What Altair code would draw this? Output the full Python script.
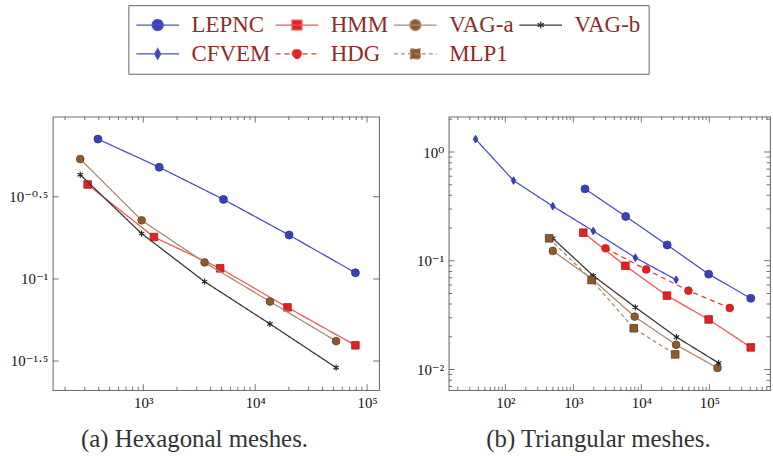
import altair as alt
import pandas as pd

SERIES = ["LEPNC", "HMM", "VAG-a", "VAG-b", "CFVEM", "HDG", "MLP1"]

# (a) Hexagonal meshes: number of unknowns vs. error
HEX_LEPNC_X = [393, 1388, 5210, 20100, 78700]
HEX_LEPNC_Y = [0.711, 0.479, 0.305, 0.185, 0.109]
HEX_HMM_X = [318, 1244, 4860, 19440, 78700]
HEX_HMM_Y = [0.376, 0.180, 0.116, 0.0671, 0.0394]
HEX_VAGA_X = [273, 966, 3530, 13550, 52900]
HEX_VAGA_Y = [0.537, 0.2275, 0.126, 0.0728, 0.0418]
HEX_VAGB_X = [273, 966, 3530, 13550, 52900]
HEX_VAGB_Y = [0.431, 0.189, 0.0962, 0.0532, 0.0288]

# (b) Triangular meshes
TRI_LEPNC_X = [1483, 5900, 24000, 97800, 407000]
TRI_LEPNC_Y = [0.459, 0.256, 0.140, 0.0755, 0.0452]
TRI_HMM_X = [1400, 5830, 23800, 97700, 407000]
TRI_HMM_Y = [0.1816, 0.090, 0.0479, 0.0289, 0.016]
TRI_VAGA_X = [499, 1897, 7980, 32500, 132000]
TRI_VAGA_Y = [0.1234, 0.068, 0.0307, 0.0169, 0.01035]
TRI_VAGB_X = [499, 1963, 8170, 32900, 137000]
TRI_VAGB_Y = [0.161, 0.0729, 0.0374, 0.0199, 0.0115]
TRI_CFVEM_X = [36.4, 132, 499, 1963, 8170, 32500]
TRI_CFVEM_Y = [1.315, 0.547, 0.318, 0.188, 0.107, 0.067]
TRI_HDG_X = [2970, 11800, 49300, 200000]
TRI_HDG_Y = [0.1305, 0.0833, 0.0532, 0.0369]
TRI_MLP1_X = [440, 1853, 7730, 31500]
TRI_MLP1_Y = [0.161, 0.0666, 0.024, 0.0138]

# axis tick values and their labels
HEX_X_TICKS = [1e3, 1e4, 1e5]
HEX_X_LABELS = ["10³", "10⁴", "10⁵"]
HEX_Y_TICKS = [10 ** -0.5, 10 ** -1.0, 10 ** -1.5]
HEX_Y_LABELS = ["10⁻⁰·⁵", "10⁻¹", "10⁻¹·⁵"]
TRI_X_TICKS = [1e2, 1e3, 1e4, 1e5]
TRI_X_LABELS = ["10²", "10³", "10⁴", "10⁵"]
TRI_Y_TICKS = [1e-2, 1e-1, 1e0]
TRI_Y_LABELS = ["10⁻²", "10⁻¹", "10⁰"]

SERIF = "Liberation Serif, DejaVu Serif, serif"
FRAME = "#707070"

# marker paths (unit box) for the plots
DIAMOND = "M0,-1L0.6,0L0,1L-0.6,0Z"
ASTERISK = "M0,-1L0,1M-0.87,-0.5L0.87,0.5M-0.87,0.5L0.87,-0.5"

# legend symbols: a line segment with the marker in its middle
LEG_CIRCLE = "M-1.95,0H1.95M-0.5,0A0.5,0.5,0,1,1,0.5,0A0.5,0.5,0,1,1,-0.5,0Z"
LEG_SQUARE = "M-1.95,0H1.95M-0.45,-0.45H0.45V0.45H-0.45Z"
LEG_DIAMOND = "M-1.95,0H1.95M0,-0.48L0.27,0L0,0.48L-0.27,0Z"
LEG_STAR = "M-1.95,0H1.95M0,-0.32L0,0.32M-0.28,-0.16L0.28,0.16M-0.28,0.16L0.28,-0.16"
LEG_SMALL_CIRCLE = "M-1.95,0H1.95M-0.42,0A0.42,0.42,0,1,1,0.42,0A0.42,0.42,0,1,1,-0.42,0Z"

STYLE = {
    "LEPNC": dict(line="#4b52c2", fill="#3b42b4", stroke="#2c3290", shape="circle",
                  size=64, dash=[1, 0], legend=LEG_CIRCLE, filled=True),
    "HMM": dict(line="#f25656", fill="#e02222", stroke="#b51818", shape="square",
                size=58, dash=[1, 0], legend=LEG_SQUARE, filled=True),
    "VAG-a": dict(line="#ab8b70", fill="#8d5a2c", stroke="#6a4020", shape="circle",
                  size=60, dash=[1, 0], legend=LEG_CIRCLE, filled=True),
    "VAG-b": dict(line="#3a3a3a", fill="#222222", stroke="#222222", shape=ASTERISK,
                  size=40, dash=[1, 0], legend=LEG_STAR, filled=False),
    "CFVEM": dict(line="#4b52c2", fill="#3b42b4", stroke="#2c3290", shape=DIAMOND,
                  size=60, dash=[1, 0], legend=LEG_DIAMOND, filled=True),
    "HDG": dict(line="#e53535", fill="#e02222", stroke="#c01a1a", shape="circle",
                size=60, dash=[5, 4], legend=LEG_SMALL_CIRCLE, filled=True),
    "MLP1": dict(line="#ab8b70", fill="#8d5a2c", stroke="#5e3b1a", shape="square",
                 size=58, dash=[4, 3], legend=LEG_SQUARE, filled=True),
}


def label_expr(values, labels):
    vals = ",".join(repr(float(v)) for v in values)
    labs = ",".join("'" + s + "'" for s in labels)
    return f"[{labs}][indexof([{vals}], datum.value)]"


def minor_ticks(lo, hi):
    out = []
    for k in range(lo, hi + 1):
        out += [m * 10.0 ** k for m in range(2, 10)]
    return out


def panel(series, xdom, ydom, xmaj, xlab, xminor, ymaj, ylab, yminor,
          width, height, caption, caption_x, yextent, legend=False):
    xs = alt.Scale(type="log", domain=xdom, nice=False)
    ys = alt.Scale(type="log", domain=ydom, nice=False)
    X = alt.X("x:Q", scale=xs, axis=alt.Axis(
        values=xmaj, labelExpr=label_expr(xmaj, xlab), ticks=False, domain=False,
        grid=False, labelPadding=5, labelFlush=False, title=caption,
        titleX=caption_x, titleY=57, titleBaseline="alphabetic", titleAnchor="middle",
        titleAlign="center"))
    Y = alt.Y("y:Q", scale=ys, axis=alt.Axis(
        values=ymaj, labelExpr=label_expr(ymaj, ylab), ticks=False, domain=False,
        grid=False, labelPadding=5, labelFlush=False, title=None,
        minExtent=yextent, maxExtent=yextent))

    layers = []
    # inward ticks on all four sides
    for vals, length in ((xmaj, 6), (xminor, 3.5)):
        d = pd.DataFrame({"x": vals})
        for edge in (height, 0):
            layers.append(alt.Chart(d).mark_tick(
                clip=True, size=2 * length, thickness=1, color=FRAME, opacity=1
            ).encode(x=X, y=alt.value(edge)))
    for vals, length in ((ymaj, 6), (yminor, 3.5)):
        if not vals:
            continue
        d = pd.DataFrame({"y": vals})
        for edge in (0, width):
            layers.append(alt.Chart(d).mark_tick(
                clip=True, size=2 * length, thickness=1, color=FRAME, opacity=1
            ).encode(y=Y, x=alt.value(edge)))

    for name, xv, yv in series:
        st = STYLE[name]
        d = pd.DataFrame({"x": xv, "y": yv})
        layers.append(alt.Chart(d).mark_line(
            color=st["line"], strokeWidth=1.3, strokeDash=st["dash"], clip=True
        ).encode(x=X, y=Y))
        if st["filled"]:
            pt = alt.Chart(d).mark_point(
                shape=st["shape"], size=st["size"], filled=True, fill=st["fill"],
                stroke=st["stroke"], strokeWidth=0.8, opacity=1)
        else:
            pt = alt.Chart(d).mark_point(
                shape=st["shape"], size=st["size"], filled=False,
                stroke=st["stroke"], strokeWidth=1.1, opacity=1)
        layers.append(pt.encode(x=X, y=Y))

    if legend:
        leg = alt.Legend(
            title=None, orient="none", legendX=76, legendY=-112,
            direction="horizontal", columns=4, strokeColor="#666666", padding=8,
            labelFont=SERIF, labelFontSize=23, labelColor="#8e2a2a", labelOffset=22,
            symbolOffset=9.5, columnPadding=2, rowPadding=5, symbolSize=484,
            symbolStrokeWidth=1.3, labelLimit=0)
        d = pd.DataFrame({"x": [1.0] * len(SERIES), "y": [1.0] * len(SERIES),
                          "series": SERIES})
        layers.append(alt.Chart(d).mark_point(
            filled=True, clip=True, opacity=1, size=484, strokeWidth=1.3
        ).encode(
            x=X, y=Y,
            fill=alt.Fill("series:N", legend=leg, scale=alt.Scale(
                domain=SERIES, range=[STYLE[s]["fill"] for s in SERIES])),
            stroke=alt.Stroke("series:N", legend=leg, scale=alt.Scale(
                domain=SERIES, range=[STYLE[s]["line"] for s in SERIES])),
            shape=alt.Shape("series:N", legend=leg, scale=alt.Scale(
                domain=SERIES, range=[STYLE[s]["legend"] for s in SERIES])),
            strokeDash=alt.StrokeDash("series:N", legend=leg, scale=alt.Scale(
                domain=SERIES, range=[STYLE[s]["dash"] for s in SERIES])),
        ))

    return alt.layer(*layers).properties(width=width, height=height)


hex_panel = panel(
    [("LEPNC", HEX_LEPNC_X, HEX_LEPNC_Y), ("HMM", HEX_HMM_X, HEX_HMM_Y),
     ("VAG-a", HEX_VAGA_X, HEX_VAGA_Y), ("VAG-b", HEX_VAGB_X, HEX_VAGB_Y)],
    [155, 128000], [0.0210, 0.975],
    HEX_X_TICKS, HEX_X_LABELS, minor_ticks(2, 4),
    HEX_Y_TICKS, HEX_Y_LABELS, [],
    328, 275, "(a) Hexagonal meshes.", 142, 46, legend=True)

tri_panel = panel(
    [("LEPNC", TRI_LEPNC_X, TRI_LEPNC_Y), ("HMM", TRI_HMM_X, TRI_HMM_Y),
     ("VAG-a", TRI_VAGA_X, TRI_VAGA_Y), ("VAG-b", TRI_VAGB_X, TRI_VAGB_Y),
     ("CFVEM", TRI_CFVEM_X, TRI_CFVEM_Y), ("HDG", TRI_HDG_X, TRI_HDG_Y),
     ("MLP1", TRI_MLP1_X, TRI_MLP1_Y)],
    [14.66, 781600], [0.00647, 2.121],
    TRI_X_TICKS, TRI_X_LABELS, minor_ticks(1, 5),
    TRI_Y_TICKS, TRI_Y_LABELS, minor_ticks(-3, 0),
    323, 275, "(b) Triangular meshes.", 150, 36)

chart = alt.hconcat(hex_panel, tri_panel, spacing=32).properties(
    padding={"left": 6, "top": 3, "right": 2, "bottom": 2},
    background="white",
).configure_view(
    stroke=FRAME, strokeWidth=1.1
).configure_axis(
    labelFont=SERIF, labelFontSize=15, labelColor="#111111",
    titleFont=SERIF, titleFontSize=25, titleFontWeight="normal", titleColor="#333333",
)

chart.save("out.html", embed_options={"renderer": "svg", "actions": False})
